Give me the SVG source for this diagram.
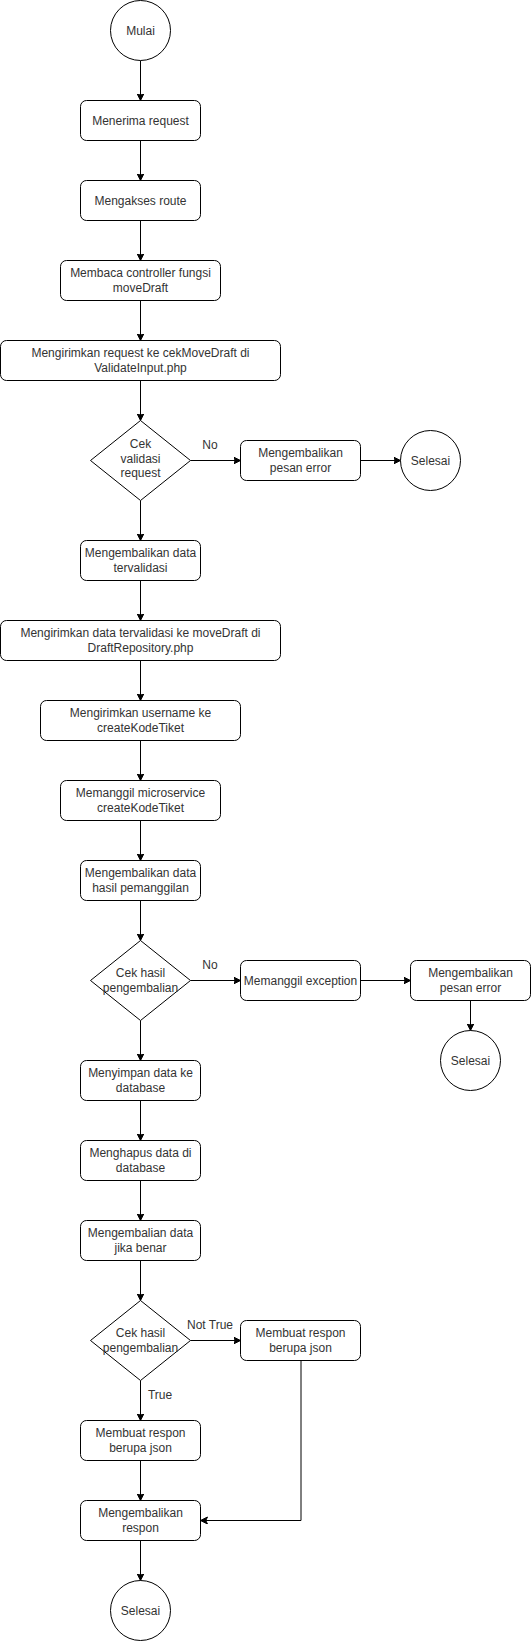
<svg xmlns="http://www.w3.org/2000/svg" width="532" height="1641" viewBox="0 0 532 1641">
<defs>
<style>
.n{fill:#fff;stroke:#000;stroke-width:1}
.t{font-family:"Liberation Sans",Arial,Helvetica,sans-serif;font-size:12px;fill:#333;text-anchor:middle}
.c{fill:none;stroke:#000;stroke-width:1}
</style>
<marker id="a" markerUnits="userSpaceOnUse" markerWidth="8" markerHeight="8" refX="7" refY="3.5" orient="auto" viewBox="0 0 8 8">
<path d="M0,0 L7,3.5 L0,7 L1.75,3.5 Z" fill="#000" stroke="#000" stroke-width="1"/>
</marker>
</defs>
<rect width="532" height="1641" fill="#fff"/>
<g id="connectors">
<path class="c" d="M140.5,60.5V100.5" marker-end="url(#a)"/>
<path class="c" d="M140.5,140.5V180.5" marker-end="url(#a)"/>
<path class="c" d="M140.5,220.5V260.5" marker-end="url(#a)"/>
<path class="c" d="M140.5,300.5V340.5" marker-end="url(#a)"/>
<path class="c" d="M140.5,380.5V420.5" marker-end="url(#a)"/>
<path class="c" d="M190.5,460.5H240.5" marker-end="url(#a)"/>
<path class="c" d="M360.5,460.5H400.5" marker-end="url(#a)"/>
<path class="c" d="M140.5,500.5V540.5" marker-end="url(#a)"/>
<path class="c" d="M140.5,580.5V620.5" marker-end="url(#a)"/>
<path class="c" d="M140.5,660.5V700.5" marker-end="url(#a)"/>
<path class="c" d="M140.5,740.5V780.5" marker-end="url(#a)"/>
<path class="c" d="M140.5,820.5V860.5" marker-end="url(#a)"/>
<path class="c" d="M140.5,900.5V940.5" marker-end="url(#a)"/>
<path class="c" d="M190.5,980.5H240.5" marker-end="url(#a)"/>
<path class="c" d="M360.5,980.5H410.5" marker-end="url(#a)"/>
<path class="c" d="M470.5,1000.5V1030.5" marker-end="url(#a)"/>
<path class="c" d="M140.5,1020.5V1060.5" marker-end="url(#a)"/>
<path class="c" d="M140.5,1100.5V1140.5" marker-end="url(#a)"/>
<path class="c" d="M140.5,1180.5V1220.5" marker-end="url(#a)"/>
<path class="c" d="M140.5,1260.5V1300.5" marker-end="url(#a)"/>
<path class="c" d="M190.5,1340.5H240.5" marker-end="url(#a)"/>
<path class="c" d="M140.5,1380.5V1420.5" marker-end="url(#a)"/>
<path class="c" d="M140.5,1460.5V1500.5" marker-end="url(#a)"/>
<path class="c" d="M301,1360.5V1520.5H200.5" marker-end="url(#a)"/>
<path class="c" d="M140.5,1540.5V1580.5" marker-end="url(#a)"/>
<text class="t" x="210" y="449">No</text>
<text class="t" x="210" y="969">No</text>
<text class="t" x="210" y="1328.5">Not True</text>
<text class="t" x="160" y="1399">True</text>
</g>
<g id="mulai"><circle class="n" cx="140.5" cy="30.5" r="30"/><text class="t" x="140.5" y="34.7">Mulai</text></g>
<g id="menerima"><rect class="n" x="80.5" y="100.5" width="120" height="40" rx="6"/><text class="t" x="140.5" y="124.7">Menerima request</text></g>
<g id="route"><rect class="n" x="80.5" y="180.5" width="120" height="40" rx="6"/><text class="t" x="140.5" y="204.7">Mengakses route</text></g>
<g id="membaca"><rect class="n" x="60.5" y="260.5" width="160" height="40" rx="6"/><text class="t" x="140.5" y="277.3">Membaca controller fungsi</text><text class="t" x="140.5" y="291.7">moveDraft</text></g>
<g id="kirimrequest"><rect class="n" x="0.5" y="340.5" width="280" height="40" rx="6"/><text class="t" x="140.5" y="357.3">Mengirimkan request ke cekMoveDraft di</text><text class="t" x="140.5" y="371.7">ValidateInput.php</text></g>
<g id="cekvalidasi"><path class="n" d="M140.5,420.5L190.5,460.5L140.5,500.5L90.5,460.5Z"/><text class="t" x="140.5" y="448.3">Cek</text><text class="t" x="140.5" y="462.7">validasi</text><text class="t" x="140.5" y="477.1">request</text></g>
<g id="pesanerror1"><rect class="n" x="240.5" y="440.5" width="120" height="40" rx="6"/><text class="t" x="300.5" y="457.3">Mengembalikan</text><text class="t" x="300.5" y="471.7">pesan error</text></g>
<g id="selesai1"><circle class="n" cx="430.5" cy="460.5" r="30"/><text class="t" x="430.5" y="464.7">Selesai</text></g>
<g id="tervalidasi"><rect class="n" x="80.5" y="540.5" width="120" height="40" rx="6"/><text class="t" x="140.5" y="557.3">Mengembalikan data</text><text class="t" x="140.5" y="571.7">tervalidasi</text></g>
<g id="kirimdata"><rect class="n" x="0.5" y="620.5" width="280" height="40" rx="6"/><text class="t" x="140.5" y="637.3">Mengirimkan data tervalidasi ke moveDraft di</text><text class="t" x="140.5" y="651.7">DraftRepository.php</text></g>
<g id="username"><rect class="n" x="40.5" y="700.5" width="200" height="40" rx="6"/><text class="t" x="140.5" y="717.3">Mengirimkan username ke</text><text class="t" x="140.5" y="731.7">createKodeTiket</text></g>
<g id="microservice"><rect class="n" x="60.5" y="780.5" width="160" height="40" rx="6"/><text class="t" x="140.5" y="797.3">Memanggil microservice</text><text class="t" x="140.5" y="811.7">createKodeTiket</text></g>
<g id="hasilpanggil"><rect class="n" x="80.5" y="860.5" width="120" height="40" rx="6"/><text class="t" x="140.5" y="877.3">Mengembalikan data</text><text class="t" x="140.5" y="891.7">hasil pemanggilan</text></g>
<g id="cekhasil1"><path class="n" d="M140.5,940.5L190.5,980.5L140.5,1020.5L90.5,980.5Z"/><text class="t" x="140.5" y="977.3">Cek hasil</text><text class="t" x="140.5" y="991.7">pengembalian</text></g>
<g id="exception"><rect class="n" x="240.5" y="960.5" width="120" height="40" rx="6"/><text class="t" x="300.5" y="984.7">Memanggil exception</text></g>
<g id="pesanerror2"><rect class="n" x="410.5" y="960.5" width="120" height="40" rx="6"/><text class="t" x="470.5" y="977.3">Mengembalikan</text><text class="t" x="470.5" y="991.7">pesan error</text></g>
<g id="selesai2"><circle class="n" cx="470.5" cy="1060.5" r="30"/><text class="t" x="470.5" y="1064.7">Selesai</text></g>
<g id="menyimpan"><rect class="n" x="80.5" y="1060.5" width="120" height="40" rx="6"/><text class="t" x="140.5" y="1077.3">Menyimpan data ke</text><text class="t" x="140.5" y="1091.7">database</text></g>
<g id="menghapus"><rect class="n" x="80.5" y="1140.5" width="120" height="40" rx="6"/><text class="t" x="140.5" y="1157.3">Menghapus data di</text><text class="t" x="140.5" y="1171.7">database</text></g>
<g id="jikabenar"><rect class="n" x="80.5" y="1220.5" width="120" height="40" rx="6"/><text class="t" x="140.5" y="1237.3">Mengembalian data</text><text class="t" x="140.5" y="1251.7">jika benar</text></g>
<g id="cekhasil2"><path class="n" d="M140.5,1300.5L190.5,1340.5L140.5,1380.5L90.5,1340.5Z"/><text class="t" x="140.5" y="1337.3">Cek hasil</text><text class="t" x="140.5" y="1351.7">pengembalian</text></g>
<g id="json2"><rect class="n" x="240.5" y="1320.5" width="120" height="40" rx="6"/><text class="t" x="300.5" y="1337.3">Membuat respon</text><text class="t" x="300.5" y="1351.7">berupa json</text></g>
<g id="json1"><rect class="n" x="80.5" y="1420.5" width="120" height="40" rx="6"/><text class="t" x="140.5" y="1437.3">Membuat respon</text><text class="t" x="140.5" y="1451.7">berupa json</text></g>
<g id="respon"><rect class="n" x="80.5" y="1500.5" width="120" height="40" rx="6"/><text class="t" x="140.5" y="1517.3">Mengembalikan</text><text class="t" x="140.5" y="1531.7">respon</text></g>
<g id="selesai3"><circle class="n" cx="140.5" cy="1610.5" r="30"/><text class="t" x="140.5" y="1614.7">Selesai</text></g>
</svg>
